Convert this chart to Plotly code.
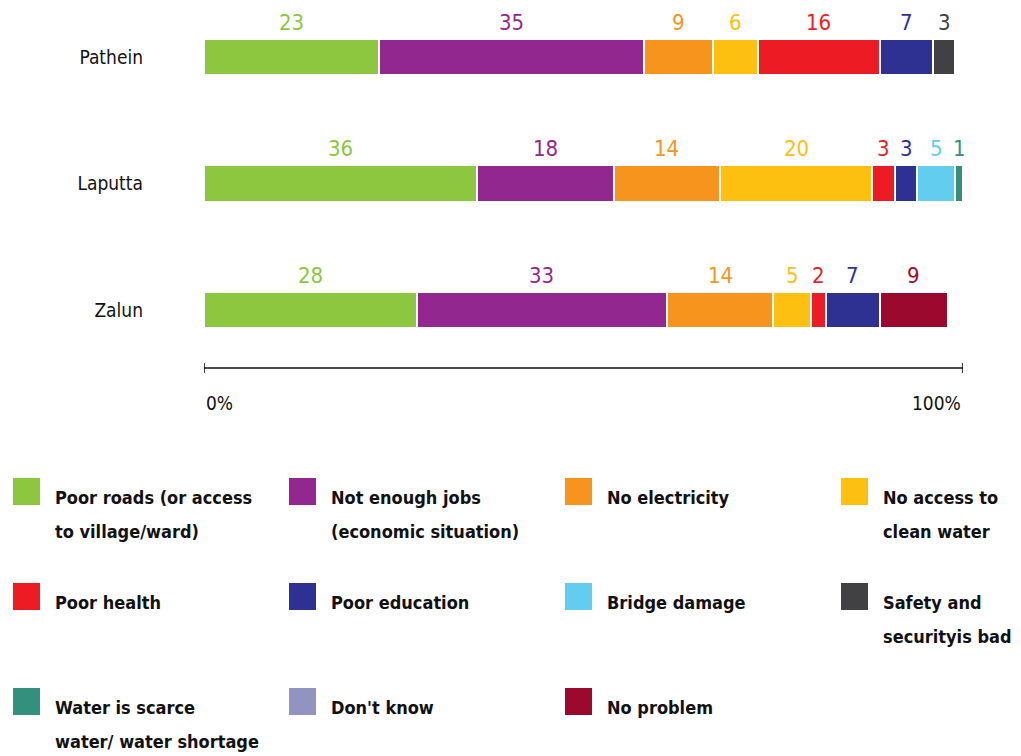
import plotly.graph_objects as go

# ---------------- data ----------------
cities = ["Pathein", "Laputta", "Zalun"]
series_names = [
    "Poor roads (or access<br>to village/ward)",
    "Not enough jobs<br>(economic situation)",
    "No electricity",
    "No access to<br>clean water",
    "Poor health",
    "Poor education",
    "Bridge damage",
    "Safety and<br>securityis bad",
    "Water is scarce<br>water/ water shortage",
    "Don't know",
    "No problem",
]
poor_roads = [23, 36, 28]
not_enough_jobs = [35, 18, 33]
no_electricity = [9, 14, 14]
no_clean_water = [6, 20, 5]
poor_health = [16, 3, 2]
poor_education = [7, 3, 7]
bridge_damage = [None, 5, None]
safety_bad = [3, None, None]
water_scarce = [None, 1, None]
dont_know = [None, None, None]
no_problem = [None, None, 9]
series_values = [poor_roads, not_enough_jobs, no_electricity, no_clean_water,
                 poor_health, poor_education, bridge_damage, safety_bad,
                 water_scarce, dont_know, no_problem]
tick_labels = ["0%", "100%"]
tick_values = [0, 100]

# ---------------- style ----------------
colors = ["#8DC63F", "#92278F", "#F7941D", "#FDC010", "#ED1C24", "#2E3192",
          "#62CDEF", "#414042", "#33907C", "#9393C2", "#9B0A2E"]
FONT = "DejaVu Sans Condensed, Liberation Sans Narrow, sans-serif"
W, H = 1021, 756

fig = go.Figure()
for name, vals, col in zip(series_names, series_values, colors):
    fig.add_trace(go.Bar(
        y=cities, x=[v if v is not None else 0 for v in vals], orientation="h",
        name=name.replace("<br>", " "), marker=dict(color=col, line=dict(color="white", width=2.5)),
        width=0.285, showlegend=False, hoverinfo="x+name",
    ))

annotations = []
# value labels above segments
for ci, city in enumerate(cities):
    cum = 0
    for vals, col in zip(series_values, colors):
        v = vals[ci]
        if v is None:
            continue
        annotations.append(dict(
            x=cum + v / 2, y=city, xref="x", yref="y", text=str(v), showarrow=False,
            yshift=35, font=dict(family=FONT, size=22, color=col),
            xanchor="center", yanchor="middle"))
        cum += v

# axis line with end caps
axis_y = 1 - 368 / H
shapes = [dict(type="line", xref="x", yref="paper", x0=tick_values[0], x1=tick_values[-1],
               y0=axis_y, y1=axis_y, line=dict(color="#111", width=1.6))]
for tv in tick_values:
    shapes.append(dict(type="line", xref="x", yref="paper", x0=tv, x1=tv,
                       y0=axis_y - 5 / H, y1=axis_y + 5 / H, line=dict(color="#111", width=1.6)))
for tv, tl, anc in zip(tick_values, tick_labels, ["left", "right"]):
    annotations.append(dict(x=tv, y=1 - 403 / H, xref="x", yref="paper", text=tl,
                            showarrow=False, xanchor=anc, yanchor="middle",
                            font=dict(family=FONT, size=19, color="#111")))

# custom legend (4 columns)
col_x = [13, 289, 565, 841]
row_y = [478, 583, 688]
sq = 27
for i, (name, col) in enumerate(zip(series_names, colors)):
    r, c = divmod(i, 4)
    x0, y0 = col_x[c], row_y[r]
    shapes.append(dict(type="rect", xref="paper", yref="paper",
                       x0=x0 / W, x1=(x0 + sq) / W, y0=1 - y0 / H, y1=1 - (y0 + sq) / H,
                       fillcolor=col, line=dict(width=0)))
    for li, line in enumerate(name.split("<br>")):
        annotations.append(dict(x=(x0 + 40) / W, y=1 - (y0 + 19 + 34 * li) / H,
                                xref="paper", yref="paper", text="<b>" + line + "</b>",
                                showarrow=False, xanchor="left", yanchor="middle",
                                font=dict(family=FONT, size=18, color="#111")))

# y axis placement: category centres at 57, 184, 310 px
step = 126.5
top_val = -57 / step
bot_px = 380
bot_val = (bot_px - 57) / step

fig.update_layout(
    barmode="stack", width=W, height=H, margin=dict(l=0, r=0, t=0, b=0),
    paper_bgcolor="white", plot_bgcolor="white",
    xaxis=dict(domain=[204 / W, 963 / W], range=[0, 100], showgrid=False,
               zeroline=False, showticklabels=False, showline=False, fixedrange=True),
    yaxis=dict(domain=[1 - bot_px / H, 1], range=[bot_val, top_val], showgrid=False,
               zeroline=False, showline=False, ticks="", ticklabelstandoff=60,
               tickfont=dict(family=FONT, size=19, color="#111"), fixedrange=True),
    shapes=shapes, annotations=annotations, bargap=0,
)

fig.write_html("out.html")
